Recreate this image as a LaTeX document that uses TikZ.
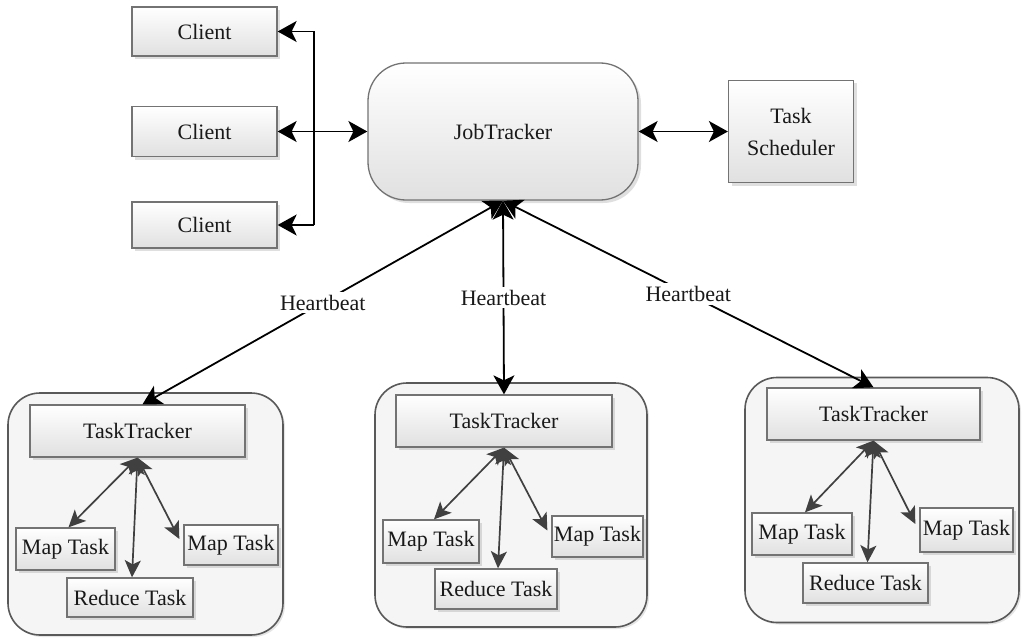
\documentclass[tikz,border=0pt]{standalone}
\usepackage{fontspec}
\setmainfont{Liberation Serif}
\usetikzlibrary{arrows.meta,shadows,calc}
\begin{document}
\begin{tikzpicture}[x=1pt,y=-1pt,
  >={Stealth[length=19pt,width=21pt,inset=5pt]},
  txt/.style={font=\fontsize{22}{25}\selectfont,text=black!90},
  box/.style={txt,draw=black!55,line width=1.3pt,top color=white,bottom color=black!12,
    drop shadow={shadow xshift=3pt,shadow yshift=-3pt,opacity=0.25},inner sep=0pt,align=center},
  rbox/.style={box,rounded corners=38pt},
  grp/.style={draw=black!65,line width=1.6pt,fill=black!4,rounded corners=32pt,inner sep=0pt,
    drop shadow={shadow xshift=2pt,shadow yshift=-2pt,opacity=0.2}},
  conn/.style={line width=1.8pt,black},
  sconn/.style={line width=1.7pt,black!75,>={Stealth[length=17pt,width=16pt,inset=4pt]}},
  hb/.style={txt,fill=white,inner sep=3pt}]
\useasboundingbox (0,0) rectangle (1026,642);
\fill[white] (0,0) rectangle (1026,642);

% top part
\node[box,minimum width=145pt,minimum height=49pt] (c1) at (204.5,31.5) {Client};
\node[box,minimum width=145pt,minimum height=50pt] (c2) at (204.5,131.5) {Client};
\node[box,minimum width=145pt,minimum height=46pt] (c3) at (204.5,225) {Client};
\node[rbox,minimum width=270pt,minimum height=137pt] (jt) at (503,131.5) {JobTracker};
\node[box,minimum width=125pt,minimum height=102pt] (ts) at (791,131.5) {Task\\[7pt]Scheduler};

% groups
\node[grp,minimum width=275pt,minimum height=242pt] (g1) at (145.5,514) {};
\node[grp,minimum width=272pt,minimum height=244pt] (g2) at (511,505) {};
\node[grp,minimum width=274pt,minimum height=245pt] (g3) at (882,500) {};

\node[box,minimum width=215pt,minimum height=52pt] (tt1) at (137.5,431) {TaskTracker};
\node[box,minimum width=99pt,minimum height=42pt] (m1a) at (65.5,549) {Map Task};
\node[box,minimum width=126pt,minimum height=39pt] (r1) at (130,597.5) {Reduce Task};
\node[box,minimum width=94pt,minimum height=40pt] (m1b) at (231,545) {Map Task};

\node[box,minimum width=216pt,minimum height=52pt] (tt2) at (504,421) {TaskTracker};
\node[box,minimum width=96pt,minimum height=43pt] (m2a) at (431,541.5) {Map Task};
\node[box,minimum width=122pt,minimum height=40pt] (r2) at (496,589) {Reduce Task};
\node[box,minimum width=91pt,minimum height=41pt] (m2b) at (597.5,536.5) {Map Task};

\node[box,minimum width=213pt,minimum height=52pt] (tt3) at (873.5,414) {TaskTracker};
\node[box,minimum width=100pt,minimum height=42pt] (m3a) at (802,534) {Map Task};
\node[box,minimum width=125pt,minimum height=40pt] (r3) at (865.5,583) {Reduce Task};
\node[box,minimum width=93pt,minimum height=44pt] (m3b) at (966.5,530) {Map Task};

% client bus
\coordinate (bus) at (314,0);
\draw[conn,->] (bus |- c1.east) -- (c1.east);
\draw[conn] (bus |- c1.east) -- (bus |- c3.east);
\draw[conn,->] (bus |- c3.east) -- (c3.east);
\draw[conn,<->] (c2.east) -- (jt.west);
\draw[conn,<->] (jt.east) -- (ts.west);

% heartbeats
\draw[conn,<->] (jt.south) -- node[hb,pos=0.5] (h1) {Heartbeat} ($(tt1.north)+(5,0)$);
\draw[conn,<->] (jt.south) -- node[hb,pos=0.5] (h2) {Heartbeat} (tt2.north);
\draw[conn,<->] (jt.south) -- node[hb,pos=0.5] (h3) {Heartbeat} (tt3.north);

% task arrows
\foreach \t/\a/\r/\b in {tt1/m1a/r1/m1b, tt2/m2a/r2/m2b, tt3/m3a/r3/m3b}{
  \draw[sconn,<->] (\t.south) -- ($(\a.north)+(3,0)$);
  \draw[sconn,<->] (\t.south) -- ($(\r.north)+(2,0)$);
  \draw[sconn,<->] (\t.south) -- ($(\b.west)+(-4,-6)$);
}
\end{tikzpicture}
\end{document}
